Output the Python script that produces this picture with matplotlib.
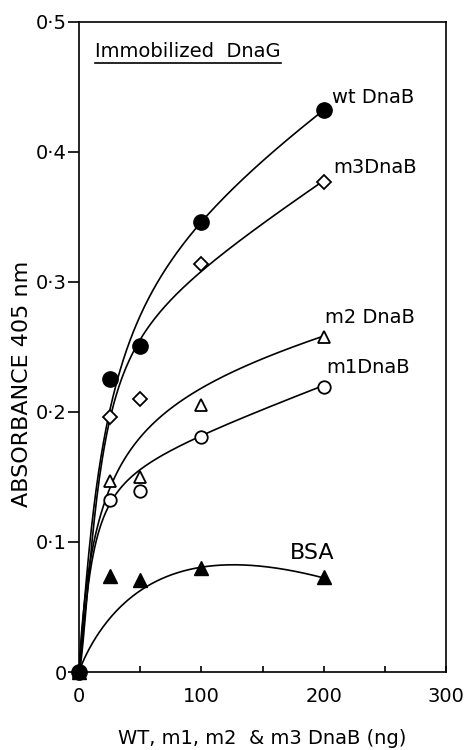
import numpy as np
import matplotlib
matplotlib.use('Agg')
import matplotlib.pyplot as plt
from matplotlib.lines import Line2D

# measured points (ng of protein, absorbance at 405 nm)
dose = [0, 25, 50, 100, 200]
wt_abs = [0, 0.225, 0.251, 0.346, 0.432]
m3_abs = [0, 0.196, 0.210, 0.314, 0.377]
m2_abs = [0, 0.147, 0.150, 0.205, 0.258]
m1_abs = [0, 0.132, 0.139, 0.181, 0.219]
bsa_abs = [0, 0.074, 0.071, 0.080, 0.073]

# hand-drawn smooth curves
wt_trace_x = [9, 31, 56, 100, 200]
wt_trace_y = [0.100, 0.224, 0.285, 0.347, 0.432]
m3_trace_x = [11, 24, 50, 77, 100, 200]
m3_trace_y = [0.100, 0.196, 0.250, 0.285, 0.314, 0.377]
m2_trace_x = [12, 29, 49, 100, 119, 148, 200]
m2_trace_y = [0.100, 0.147, 0.183, 0.216, 0.226, 0.243, 0.258]
m1_trace_x = [14, 25, 48, 100, 148, 200]
m1_trace_y = [0.100, 0.132, 0.150, 0.183, 0.203, 0.219]
bsa_trace_x = [9, 28, 50, 100, 126, 197]
bsa_trace_y = [0.019, 0.044, 0.063, 0.080, 0.083, 0.073]

y_ticks = [0, 0.1, 0.2, 0.3, 0.4, 0.5]
y_tick_labels = ['0', '0·1', '0·2', '0·3', '0·4', '0·5']
x_ticks = [0, 100, 200, 300]


def fit_curve(xs, ys):
    # saturation curve V*x^n/(K^n+x^n) + c*x, grid over K and n
    xs = np.asarray(xs, float)
    ys = np.asarray(ys, float)
    best = None
    for n in np.arange(0.3, 1.6, 0.02):
        for K in np.logspace(0, 4, 160):
            h = xs**n / (K**n + xs**n)
            A = np.column_stack([h, xs])
            coef = np.linalg.lstsq(A, ys, rcond=None)[0]
            err = np.sum((A @ coef - ys)**2)
            if best is None or err < best[0]:
                best = (err, n, K, coef)
    _, n, K, coef = best
    xx = np.linspace(0, 200, 300)
    return xx, coef[0] * xx**n / (K**n + xx**n) + coef[1] * xx


plt.rcParams['font.family'] = 'DejaVu Sans'
fig = plt.figure(figsize=(4.74, 7.5), dpi=100)
ax = fig.add_axes([0.1667, 0.104, 0.7743, 0.8667])

for tx, ty in [(wt_trace_x, wt_trace_y), (m3_trace_x, m3_trace_y),
               (m2_trace_x, m2_trace_y), (m1_trace_x, m1_trace_y),
               (bsa_trace_x, bsa_trace_y)]:
    cx, cy = fit_curve(tx, ty)
    ax.plot(cx, cy, color='black', lw=1.2)

ax.plot(dose, m3_abs, 'D', ms=7, mfc='white', mec='black', mew=1.3, ls='none', clip_on=False, zorder=3)
ax.plot(dose, m2_abs, '^', ms=9, mfc='white', mec='black', mew=1.3, ls='none', clip_on=False, zorder=3)
ax.plot(dose, m1_abs, 'o', ms=9, mfc='white', mec='black', mew=1.3, ls='none', clip_on=False, zorder=3)
ax.plot(dose, wt_abs, 'o', ms=11, color='black', ls='none', clip_on=False, zorder=4)
ax.plot(dose, bsa_abs, '^', ms=10, color='black', ls='none', clip_on=False, zorder=4)

ax.text(207, 0.442, 'wt DnaB', fontsize=14, va='center', ha='left')
ax.text(207.5, 0.388, 'm3DnaB', fontsize=14, va='center', ha='left')
ax.text(201, 0.273, 'm2 DnaB', fontsize=14, va='center', ha='left')
ax.text(202, 0.234, 'm1DnaB', fontsize=14, va='center', ha='left')
ax.text(172.5, 0.0915, 'BSA', fontsize=16, va='center', ha='left')
title = ax.text(13, 0.477, 'Immobilized  DnaG', fontsize=14, va='center', ha='left')

ax.set_xlim(0, 300)
ax.set_ylim(0, 0.5)
ax.set_xticks(x_ticks)
ax.set_xticks(np.arange(0, 301, 50), minor=True)
ax.set_xticklabels([str(v) for v in x_ticks])
ax.set_yticks(y_ticks)
ax.set_yticklabels(y_tick_labels)
ax.tick_params(axis='x', which='both', direction='in', length=4, width=1.2, labelsize=14, pad=11)
ax.tick_params(axis='y', direction='out', length=8, width=1.2, labelsize=14, pad=1)
for s in ax.spines.values():
    s.set_linewidth(1.2)

ax.set_xlabel('WT, m1, m2  & m3 DnaB (ng)', fontsize=14, labelpad=16)
fig.text(0.046, 1 - 384 / 750, 'ABSORBANCE 405 nm', rotation=90, fontsize=16,
         va='center', ha='center')

# underline the panel title
fig.canvas.draw()
bb = title.get_window_extent().transformed(fig.transFigure.inverted())
fig.add_artist(Line2D([bb.x0, bb.x1], [bb.y0 - 0.002, bb.y0 - 0.002], color='black', lw=1.2,
                      transform=fig.transFigure))

fig.savefig('out.png', dpi=100)
